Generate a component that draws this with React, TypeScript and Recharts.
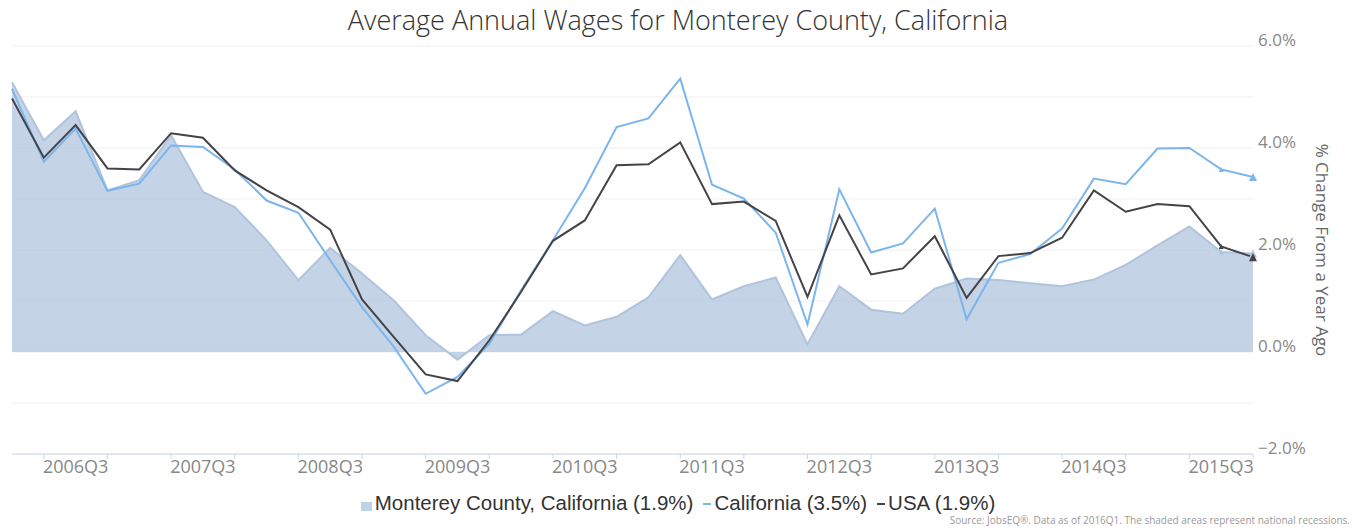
import React from 'react';
import { ComposedChart, Area, Line, XAxis, YAxis, CartesianGrid } from 'recharts';

const quarters = [
  '2006Q1', '2006Q2', '2006Q3', '2006Q4',
  '2007Q1', '2007Q2', '2007Q3', '2007Q4',
  '2008Q1', '2008Q2', '2008Q3', '2008Q4',
  '2009Q1', '2009Q2', '2009Q3', '2009Q4',
  '2010Q1', '2010Q2', '2010Q3', '2010Q4',
  '2011Q1', '2011Q2', '2011Q3', '2011Q4',
  '2012Q1', '2012Q2', '2012Q3', '2012Q4',
  '2013Q1', '2013Q2', '2013Q3', '2013Q4',
  '2014Q1', '2014Q2', '2014Q3', '2014Q4',
  '2015Q1', '2015Q2', '2015Q3', '2015Q4',
];

const montereyValues = [
  5.29, 4.15, 4.72, 3.17, 3.37, 4.25, 3.14, 2.84, 2.19, 1.41,
  2.04, 1.54, 1.01, 0.33, -0.15, 0.33, 0.34, 0.8, 0.52, 0.69,
  1.07, 1.9, 1.03, 1.29, 1.46, 0.15, 1.29, 0.83, 0.75, 1.24,
  1.44, 1.41, 1.35, 1.29, 1.42, 1.71, 2.09, 2.46, 1.96, 1.93,
];

const californiaValues = [
  5.16, 3.73, 4.38, 3.16, 3.3, 4.05, 4.02, 3.58, 2.97, 2.73,
  1.8, 0.88, 0.1, -0.82, -0.49, 0.16, 1.21, 2.19, 3.21, 4.41,
  4.58, 5.36, 3.28, 3.01, 2.34, 0.54, 3.19, 1.95, 2.13, 2.81,
  0.64, 1.75, 1.92, 2.42, 3.4, 3.29, 3.99, 4.0, 3.58, 3.43,
];

const usaValues = [
  4.97, 3.81, 4.45, 3.6, 3.58, 4.29, 4.2, 3.56, 3.17, 2.84,
  2.4, 1.03, 0.29, -0.44, -0.57, 0.23, 1.18, 2.18, 2.58, 3.66,
  3.68, 4.11, 2.9, 2.95, 2.57, 1.08, 2.68, 1.52, 1.64, 2.27,
  1.06, 1.88, 1.94, 2.24, 3.17, 2.75, 2.9, 2.86, 2.07, 1.86,
];

const xTickLabels = [
  '2006Q3', '2007Q3', '2008Q3', '2009Q3', '2010Q3',
  '2011Q3', '2012Q3', '2013Q3', '2014Q3', '2015Q3',
];

const yTicks = [-2, -1, 0, 1, 2, 3, 4, 5, 6];
const yLabelledTicks = [-2, 0, 2, 4, 6];

const legendItems = [
  { name: 'Monterey County, California (1.9%)', color: '#b0c4de', kind: 'square' },
  { name: 'California (3.5%)', color: '#7cb5ec', kind: 'dash' },
  { name: 'USA (1.9%)', color: '#434348', kind: 'dash' },
];

const data = quarters.map((q, i) => ({
  q,
  monterey: montereyValues[i],
  california: californiaValues[i],
  usa: usaValues[i],
}));

const FONT = '"Open Sans", "Noto Sans", sans-serif';

const XTick = (props: any) => {
  const { x, y, payload, index } = props;
  const i = payload && payload.index !== undefined ? payload.index : index;
  return (
    <g>
      {i % 2 === 1 && <line x1={x} x2={x} y1={y} y2={y + 5} stroke="#ccd6eb" strokeWidth={1} />}
      {xTickLabels.includes(payload.value) && (
        <text x={x} y={y + 19} textAnchor="middle" fill="#888" fontSize={18} fontFamily={FONT}>
          {payload.value}
        </text>
      )}
    </g>
  );
};

const YTick = (props: any) => {
  const { x, y, payload } = props;
  if (!yLabelledTicks.includes(payload.value)) return <g />;
  const v = payload.value;
  const label = (v < 0 ? '\u2212' : '') + Math.abs(v).toFixed(1) + '%';
  return (
    <text x={x + 5} y={y} textAnchor="start" fill="#888" fontSize={17} fontFamily={FONT}>
      {label}
    </text>
  );
};

const makeDot = (color: string) => (props: any) => {
  const { cx, cy, index } = props;
  if (index < 38 || cx == null || cy == null) return <g key={`d${index}`} />;
  const s = index === 39 ? 4 : 2.5;
  return (
    <path
      key={`d${index}`}
      d={`M${cx},${cy - s} L${cx + s},${cy + s} L${cx - s},${cy + s} Z`}
      fill={color}
    />
  );
};

const AxisTitle = (props: any) => {
  const vb = props.viewBox || {};
  const cx = vb.x + 69;
  const cy = vb.y + vb.height / 2;
  return (
    <text
      x={cx}
      y={cy}
      transform={`rotate(90 ${cx} ${cy})`}
      textAnchor="middle"
      dominantBaseline="central"
      fill="#666"
      fontSize={17}
      fontFamily={FONT}
    >
      % Change From a Year Ago
    </text>
  );
};

export default function App() {
  return (
    <div style={{ position: 'absolute', left: 0, top: 0, width: 1356, height: 529, background: '#fff', overflow: 'hidden' }}>
      <div
        style={{
          position: 'absolute',
          left: 0,
          top: 6,
          width: 1356,
          textAlign: 'center',
          fontFamily: FONT,
          fontWeight: 300,
          fontSize: 27,
          lineHeight: '27px',
          color: '#333',
        }}
      >
        Average Annual Wages for Monterey County, California
      </div>
      <ComposedChart width={1356} height={529} data={data} margin={{ top: 46, right: 0, bottom: 0, left: 12 }}>
        <CartesianGrid horizontal vertical={false} stroke="#efefef" />
        <XAxis
          dataKey="q"
          interval={0}
          height={75}
          tickSize={0}
          tickMargin={0}
          tickLine={false}
          axisLine={{ stroke: '#ccd6eb' }}
          tick={<XTick />}
          padding={{ left: 0, right: 0 }}
        />
        <YAxis
          orientation="right"
          width={103}
          domain={[-2, 6]}
          ticks={yTicks}
          allowDataOverflow
          tickSize={0}
          tickMargin={0}
          tickLine={false}
          axisLine={false}
          tick={<YTick />}
          label={{ content: <AxisTitle /> }}
        />
        <Area
          type="linear"
          dataKey="monterey"
          baseValue={0}
          fill="#b0c4de"
          fillOpacity={0.75}
          stroke="#b0c4de"
          strokeWidth={2}
          dot={makeDot('#b0c4de')}
          activeDot={false}
          isAnimationActive={false}
        />
        <Line
          type="linear"
          dataKey="california"
          stroke="#7cb5ec"
          strokeWidth={2}
          dot={makeDot('#7cb5ec')}
          activeDot={false}
          isAnimationActive={false}
        />
        <Line
          type="linear"
          dataKey="usa"
          stroke="#434348"
          strokeWidth={2}
          dot={makeDot('#434348')}
          activeDot={false}
          isAnimationActive={false}
        />
      </ComposedChart>
      <div
        style={{
          position: 'absolute',
          left: 0,
          top: 491,
          width: 1356,
          display: 'flex',
          justifyContent: 'center',
          alignItems: 'center',
          fontFamily: '"Liberation Sans", Arial, sans-serif',
          fontSize: 20.5,
          lineHeight: '24px',
          color: '#333',
        }}
      >
        {legendItems.map((it, k) => (
          <div key={it.name} style={{ display: 'flex', alignItems: 'center', marginLeft: k === 0 ? 0 : 10 }}>
            {it.kind === 'square' ? (
              <span style={{ display: 'inline-block', width: 11, height: 9, background: it.color, opacity: 0.8, marginRight: 3, marginTop: 6 }} />
            ) : (
              <span style={{ display: 'inline-block', width: 8, height: 2, background: it.color, marginRight: 3, marginTop: 2 }} />
            )}
            <span>{it.name}</span>
          </div>
        ))}
      </div>
      <div
        style={{
          position: 'absolute',
          right: 6,
          top: 513,
          fontFamily: FONT,
          fontSize: 10,
          lineHeight: '14px',
          color: '#999',
          whiteSpace: 'nowrap',
        }}
      >
        Source: JobsEQ®. Data as of 2016Q1. The shaded areas represent national recessions.
      </div>
    </div>
  );
}
